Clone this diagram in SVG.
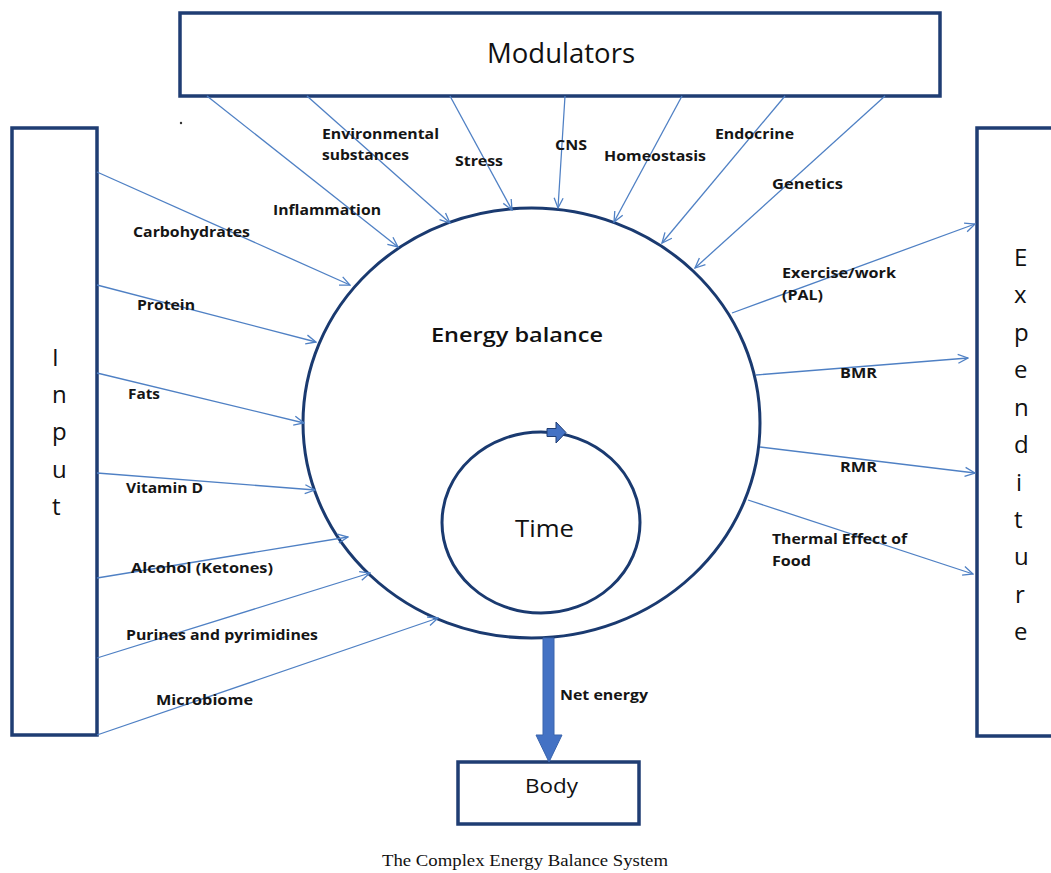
<svg xmlns="http://www.w3.org/2000/svg" width="1051" height="873" viewBox="0 0 1051 873">
<defs>
<style>
.box{fill:#fff;stroke:#1f3d73;stroke-width:3.5}
.ring{fill:none;stroke:#1a3a70;stroke-width:3}
.conn line{stroke:#4f80c4;stroke-width:1.3;marker-end:url(#ah)}
.lbl{font-family:"Open Sans","Liberation Sans",sans-serif;font-weight:700;font-size:14px;fill:#151515}
.big{font-family:"Open Sans","Liberation Sans",sans-serif;fill:#111}
.vert{font-family:"Open Sans","Liberation Sans",sans-serif;font-size:24px;fill:#111}
.cap{font-family:"Liberation Serif","Times New Roman",serif;font-size:17px;fill:#111}
</style>
<marker id="ah" markerUnits="userSpaceOnUse" markerWidth="12" markerHeight="12" viewBox="0 0 12 12" refX="11" refY="6" orient="auto">
<path d="M1,1.5 L11,6 L1,10.5" fill="none" stroke="#4f80c4" stroke-width="1.3"/>
</marker>
</defs>
<rect width="1051" height="873" fill="#fff"/>

<g id="modulators">
<rect class="box" x="180" y="13" width="760" height="83"/>
<text class="big" x="487" y="63" font-size="28" textLength="148" lengthAdjust="spacingAndGlyphs">Modulators</text>
</g>

<g id="input">
<rect class="box" x="12" y="128" width="85" height="607"/>
<text class="vert" x="52" y="366">I</text>
<text class="vert" x="52" y="403">n</text>
<text class="vert" x="52" y="440">p</text>
<text class="vert" x="52" y="478">u</text>
<text class="vert" x="52" y="515">t</text>
</g>

<g id="expenditure">
<rect class="box" x="977" y="128" width="100" height="608"/>
<text class="vert" x="1014" y="266">E</text>
<text class="vert" x="1014" y="303">x</text>
<text class="vert" x="1014" y="341">p</text>
<text class="vert" x="1014" y="378">e</text>
<text class="vert" x="1014" y="416">n</text>
<text class="vert" x="1014" y="453">d</text>
<text class="vert" x="1016" y="491">i</text>
<text class="vert" x="1014" y="528">t</text>
<text class="vert" x="1014" y="565">u</text>
<text class="vert" x="1015" y="603">r</text>
<text class="vert" x="1014" y="640">e</text>
</g>

<g id="energy-balance">
<ellipse class="ring" cx="531.5" cy="423" rx="228.5" ry="215"/>
<text class="big" x="431" y="342" font-size="20" font-weight="600" textLength="172" lengthAdjust="spacingAndGlyphs">Energy  balance</text>
</g>

<g id="time">
<ellipse class="ring" cx="541" cy="522.5" rx="99" ry="90.5" stroke-width="2.5"/>
<path d="M547,428.5 L556,428.5 L556,422 L566,432.5 L556,443 L556,436.5 L547,436.5 Z" fill="#4472c4" stroke="#1f3d73" stroke-width="1"/>
<text class="big" x="515" y="537" font-size="24" textLength="59" lengthAdjust="spacingAndGlyphs">Time</text>
</g>

<g id="body">
<rect class="box" x="458" y="762" width="181" height="62" stroke-width="3"/>
<text class="big" x="525" y="793" font-size="20" textLength="53" lengthAdjust="spacingAndGlyphs">Body</text>
</g>

<g id="connectors">
<g class="conn">
<line x1="207" y1="96" x2="398" y2="247"/>
<line x1="307" y1="96" x2="450" y2="223"/>
<line x1="450" y1="96" x2="512" y2="210"/>
<line x1="565" y1="96" x2="558" y2="208"/>
<line x1="682" y1="96" x2="614" y2="222"/>
<line x1="785" y1="96" x2="662" y2="243"/>
<line x1="885" y1="96" x2="695" y2="268"/>
<line x1="97" y1="172" x2="350" y2="285"/>
<line x1="97" y1="285" x2="316" y2="342"/>
<line x1="97" y1="373" x2="304" y2="423"/>
<line x1="97" y1="473" x2="315" y2="490"/>
<line x1="97" y1="578" x2="348" y2="537"/>
<line x1="97" y1="658" x2="370" y2="573"/>
<line x1="97" y1="735" x2="438" y2="618"/>
<line x1="732" y1="313" x2="975" y2="224"/>
<line x1="756" y1="375" x2="968" y2="358"/>
<line x1="760" y1="447" x2="975" y2="473"/>
<line x1="748" y1="500" x2="973" y2="574"/>
</g>
<path id="net-energy-arrow" d="M543,638 L554,638 L554,735 L562,735 L549,762 L536,735 L543,735 Z" fill="#4472c4" stroke="#3a64ad" stroke-width="1"/>
</g>

<g id="labels">
<text class="lbl" x="322" y="139" textLength="117" lengthAdjust="spacingAndGlyphs">Environmental</text>
<text class="lbl" x="322" y="160" textLength="87" lengthAdjust="spacingAndGlyphs">substances</text>
<text class="lbl" x="455" y="166" textLength="48" lengthAdjust="spacingAndGlyphs">Stress</text>
<text class="lbl" x="555" y="150" textLength="32" lengthAdjust="spacingAndGlyphs">CNS</text>
<text class="lbl" x="604" y="161" textLength="102" lengthAdjust="spacingAndGlyphs">Homeostasis</text>
<text class="lbl" x="715" y="139" textLength="79" lengthAdjust="spacingAndGlyphs">Endocrine</text>
<text class="lbl" x="772" y="189" textLength="71" lengthAdjust="spacingAndGlyphs">Genetics</text>
<text class="lbl" x="273" y="215" textLength="108" lengthAdjust="spacingAndGlyphs">Inflammation</text>
<text class="lbl" x="133" y="237" textLength="117" lengthAdjust="spacingAndGlyphs">Carbohydrates</text>
<text class="lbl" x="137" y="310" textLength="58" lengthAdjust="spacingAndGlyphs">Protein</text>
<text class="lbl" x="128" y="399" textLength="32" lengthAdjust="spacingAndGlyphs">Fats</text>
<text class="lbl" x="126" y="493" textLength="77" lengthAdjust="spacingAndGlyphs">Vitamin D</text>
<text class="lbl" x="131" y="573" textLength="142" lengthAdjust="spacingAndGlyphs">Alcohol (Ketones)</text>
<text class="lbl" x="126" y="640" textLength="192" lengthAdjust="spacingAndGlyphs">Purines and pyrimidines</text>
<text class="lbl" x="156" y="705" textLength="97" lengthAdjust="spacingAndGlyphs">Microbiome</text>
<text class="lbl" x="782" y="278" textLength="114" lengthAdjust="spacingAndGlyphs">Exercise/work</text>
<text class="lbl" x="782" y="300" textLength="41" lengthAdjust="spacingAndGlyphs">(PAL)</text>
<text class="lbl" x="840" y="378" textLength="37" lengthAdjust="spacingAndGlyphs">BMR</text>
<text class="lbl" x="840" y="472" textLength="37" lengthAdjust="spacingAndGlyphs">RMR</text>
<text class="lbl" x="772" y="544" textLength="135" lengthAdjust="spacingAndGlyphs">Thermal Effect of</text>
<text class="lbl" x="772" y="566" textLength="39" lengthAdjust="spacingAndGlyphs">Food</text>
<text class="lbl" x="560" y="700" textLength="88" lengthAdjust="spacingAndGlyphs">Net energy</text>
</g>

<circle cx="181" cy="123" r="1.2" fill="#333"/>
<text class="cap" x="525" y="866" text-anchor="middle" textLength="286" lengthAdjust="spacingAndGlyphs">The Complex Energy Balance System</text>
</svg>
